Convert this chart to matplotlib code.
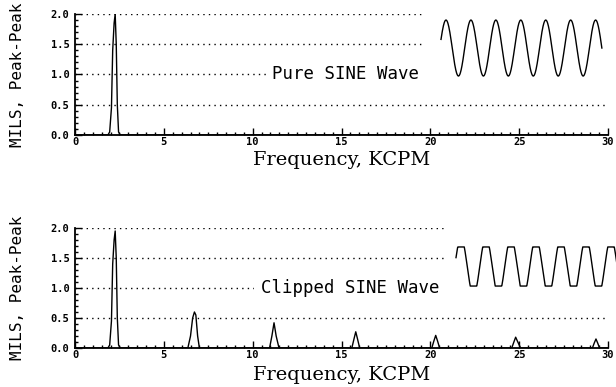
import numpy as np
import matplotlib
matplotlib.use('Agg')
import matplotlib.pyplot as plt
from matplotlib.ticker import MultipleLocator, FormatStrFormatter

# 스펙트럼 데이터 (주파수 KCPM, 진폭 MILS peak-peak)
pure_freq = [0.0, 1.85, 1.95, 2.05, 2.12, 2.20, 2.26, 2.32, 2.38, 2.45, 2.55, 30.0]
pure_amp = [0.0, 0.0, 0.05, 0.45, 1.40, 1.85, 2.00, 1.50, 0.50, 0.05, 0.0, 0.0]

clip_freq = [0.0, 1.85, 1.95, 2.05, 2.12, 2.20, 2.26, 2.32, 2.38, 2.45, 2.55,
             6.35, 6.50, 6.62, 6.72, 6.80, 6.90, 7.00,
             10.95, 11.08, 11.20, 11.32, 11.48,
             15.58, 15.70, 15.80, 15.90, 16.02,
             20.08, 20.20, 20.30, 20.40, 20.52,
             24.58, 24.70, 24.80, 24.92, 25.08,
             29.12, 29.22, 29.32, 29.42, 29.52, 30.0]
clip_amp = [0.0, 0.0, 0.05, 0.45, 1.40, 1.80, 1.95, 1.50, 0.50, 0.05, 0.0,
            0.0, 0.20, 0.50, 0.60, 0.55, 0.20, 0.0,
            0.0, 0.20, 0.42, 0.20, 0.0,
            0.0, 0.15, 0.27, 0.15, 0.0,
            0.0, 0.12, 0.21, 0.12, 0.0,
            0.0, 0.10, 0.18, 0.10, 0.0,
            0.0, 0.08, 0.15, 0.08, 0.0, 0.0]

ytick_vals = [0.0, 0.5, 1.0, 1.5, 2.0]
xtick_vals = [0, 5, 10, 15, 20, 25, 30]

mono = 'DejaVu Sans Mono'

fig = plt.figure(figsize=(6.16, 3.87), dpi=100)


def setup(ax, freq, amp, label, label_x, xlab_y):
    ax.plot(freq, amp, color='black', lw=1.0, zorder=3)
    ax.set_xlim(0, 30)
    ax.set_ylim(0, 2.0)
    ax.set_xticks(xtick_vals)
    ax.set_yticks(ytick_vals)
    ax.xaxis.set_minor_locator(MultipleLocator(0.5))
    ax.yaxis.set_minor_locator(MultipleLocator(0.1))
    ax.yaxis.set_major_formatter(FormatStrFormatter('%.1f'))
    ax.tick_params(which='both', direction='in', width=1.0, color='black')
    ax.tick_params(which='major', length=5)
    ax.tick_params(which='minor', length=2.5)
    ax.tick_params(axis='x', pad=1.5)
    ax.tick_params(axis='y', pad=4)
    for t in ax.get_xticklabels() + ax.get_yticklabels():
        t.set_family(mono)
        t.set_fontweight('bold')
        t.set_fontsize(7.5)
    for s in ['top', 'right']:
        ax.spines[s].set_visible(False)
    for s in ['left', 'bottom']:
        ax.spines[s].set_linewidth(1.3)
    ax.grid(axis='y', which='major', color='black', lw=1.0, linestyle=(0, (1, 3)))
    ax.set_xlabel('Frequency, KCPM', family='DejaVu Serif', fontsize=14, va='center')
    ax.xaxis.set_label_coords(0.5, xlab_y)
    ax.set_ylabel('MILS, Peak-Peak', family=mono, fontsize=11.5, va='center')
    ax.yaxis.set_label_coords(-0.107, 0.5)
    ax.text(label_x, 1.0, label, family=mono, fontsize=12.5, ha='center', va='center',
            zorder=4, bbox=dict(fc='white', ec='none', pad=5))


ax1 = fig.add_axes([0.1218, 0.6512, 0.8653, 0.3127])
setup(ax1, pure_freq, pure_amp, 'Pure SINE Wave', 15.25, -0.207)

ax2 = fig.add_axes([0.1218, 0.1008, 0.8653, 0.3101])
setup(ax2, clip_freq, clip_amp, 'Clipped SINE Wave', 15.5, -0.225)

# 파형 그림 (inset)
t1 = np.linspace(-0.2, 6.25, 600)
in1 = fig.add_axes([0.690, 0.7674, 0.300, 0.2119])
in1.plot(t1, np.cos(2 * np.pi * t1), color='black', lw=1.0)
in1.set_xlim(-0.84, 6.57)
in1.set_ylim(-1.5, 1.43)
in1.axis('off')
in1.add_patch(plt.Rectangle((0, 0), 1, 1, transform=in1.transAxes, fc='white', ec='none', zorder=0))

t2 = np.linspace(-0.2, 6.4, 800)
in2 = fig.add_axes([0.7224, 0.2119, 0.2776, 0.2196])
in2.plot(t2, np.clip(1.47 * np.cos(2 * np.pi * t2), -1, 1), color='black', lw=1.0)
in2.set_xlim(-0.64, 6.2)
in2.set_ylim(-1.97, 2.38)
in2.axis('off')
in2.add_patch(plt.Rectangle((0, 0), 1, 1, transform=in2.transAxes, fc='white', ec='none', zorder=0))

fig.savefig('out.png', dpi=100)
